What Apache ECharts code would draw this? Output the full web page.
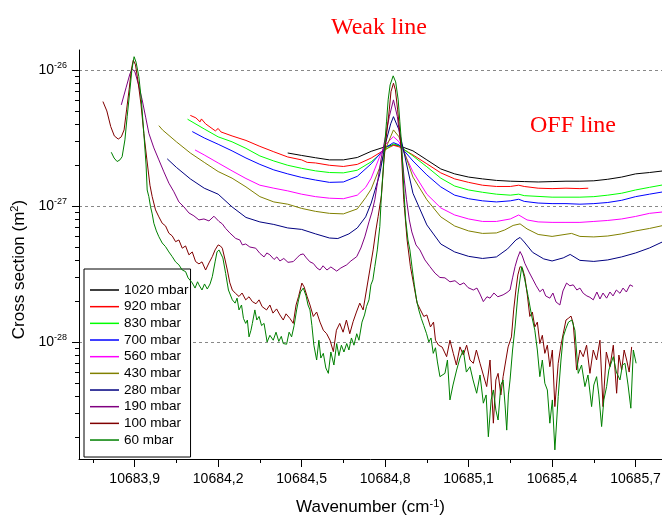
<!DOCTYPE html>
<html>
<head>
<meta charset="utf-8">
<script src="https://cdn.jsdelivr.net/npm/echarts@6/dist/echarts.min.js"></script>
<style>
  html, body { margin: 0; padding: 0; background: #fff; }
  #chart { width: 662px; height: 516px; }
</style>
</head>
<body>
<div id="chart"></div>
<script>
// legend names and line colours
const names = ['1020 mbar', '920 mbar', '830 mbar', '700 mbar', '560 mbar', '430 mbar', '280 mbar', '190 mbar', '100 mbar', '60 mbar'];
const colors = ['#000000', '#ff0000', '#00ff00', '#0000ff', '#ff00ff', '#808000', '#000080', '#800080', '#800000', '#008000'];

// axis ticks
const xMajorTicks = [10683.9, 10684.2, 10684.5, 10684.8, 10685.1, 10685.4, 10685.7];
const xMinorTicks = [10683.75, 10684.05, 10684.35, 10684.65, 10684.95, 10685.25, 10685.55];
const yMajorTicks = [1e-28, 1e-27, 1e-26];
const yMinorTicks = [2e-29, 3e-29, 4e-29, 5e-29, 6e-29, 7e-29, 8e-29, 9e-29,
  2e-28, 3e-28, 4e-28, 5e-28, 6e-28, 7e-28, 8e-28, 9e-28,
  2e-27, 3e-27, 4e-27, 5e-27, 6e-27, 7e-27, 8e-27, 9e-27];

// [wavenumber cm-1, cross section m2]
const p1020 = [[10684.45,2.45e-27],[10684.50,2.35e-27],[10684.55,2.26e-27],[10684.60,2.18e-27],[10684.65,2.18e-27],[10684.70,2.27e-27],[10684.75,2.52e-27],[10684.80,2.72e-27],[10684.83,2.81e-27],[10684.85,2.77e-27],[10684.90,2.54e-27],[10684.95,2.18e-27],[10685.00,1.87e-27],[10685.05,1.72e-27],[10685.10,1.63e-27],[10685.15,1.58e-27],[10685.20,1.54e-27],[10685.25,1.52e-27],[10685.30,1.51e-27],[10685.35,1.50e-27],[10685.40,1.51e-27],[10685.45,1.52e-27],[10685.50,1.52e-27],[10685.55,1.53e-27],[10685.60,1.57e-27],[10685.65,1.63e-27],[10685.70,1.72e-27],[10685.75,1.76e-27],[10685.80,1.81e-27]];

const p920 = [[10684.10,4.63e-27],[10684.12,4.44e-27],[10684.135,4.15e-27],[10684.14,4.36e-27],[10684.155,4.01e-27],[10684.19,3.56e-27],[10684.20,3.71e-27],[10684.21,3.50e-27],[10684.25,3.27e-27],[10684.30,3.03e-27],[10684.35,2.74e-27],[10684.40,2.50e-27],[10684.45,2.29e-27],[10684.50,2.18e-27],[10684.52,2.09e-27],[10684.55,2.07e-27],[10684.60,1.99e-27],[10684.65,1.95e-27],[10684.70,2.02e-27],[10684.75,2.25e-27],[10684.80,2.60e-27],[10684.83,2.79e-27],[10684.85,2.72e-27],[10684.90,2.37e-27],[10684.95,2.04e-27],[10685.00,1.75e-27],[10685.05,1.58e-27],[10685.10,1.49e-27],[10685.15,1.42e-27],[10685.20,1.39e-27],[10685.25,1.39e-27],[10685.28,1.42e-27],[10685.30,1.39e-27],[10685.35,1.35e-27],[10685.40,1.34e-27],[10685.45,1.35e-27],[10685.50,1.34e-27],[10685.53,1.35e-27]];

const p830 = [[10684.09,4.34e-27],[10684.15,3.68e-27],[10684.20,3.22e-27],[10684.25,2.96e-27],[10684.30,2.65e-27],[10684.35,2.33e-27],[10684.40,2.14e-27],[10684.45,1.99e-27],[10684.50,1.89e-27],[10684.55,1.81e-27],[10684.60,1.76e-27],[10684.65,1.75e-27],[10684.70,1.83e-27],[10684.75,2.11e-27],[10684.80,2.58e-27],[10684.83,2.86e-27],[10684.85,2.77e-27],[10684.90,2.33e-27],[10684.95,1.94e-27],[10685.00,1.60e-27],[10685.05,1.40e-27],[10685.10,1.31e-27],[10685.15,1.26e-27],[10685.20,1.22e-27],[10685.25,1.20e-27],[10685.28,1.22e-27],[10685.30,1.19e-27],[10685.40,1.16e-27],[10685.50,1.16e-27],[10685.55,1.17e-27],[10685.60,1.20e-27],[10685.65,1.24e-27],[10685.70,1.31e-27],[10685.75,1.37e-27],[10685.80,1.43e-27]];

const p700 = [[10684.107,3.52e-27],[10684.15,3.16e-27],[10684.20,2.84e-27],[10684.25,2.54e-27],[10684.30,2.25e-27],[10684.35,2.02e-27],[10684.40,1.84e-27],[10684.45,1.72e-27],[10684.50,1.62e-27],[10684.55,1.55e-27],[10684.60,1.49e-27],[10684.65,1.50e-27],[10684.70,1.65e-27],[10684.75,2.04e-27],[10684.80,2.67e-27],[10684.83,2.92e-27],[10684.85,2.81e-27],[10684.90,2.14e-27],[10684.95,1.69e-27],[10685.00,1.38e-27],[10685.05,1.20e-27],[10685.10,1.13e-27],[10685.15,1.09e-27],[10685.20,1.07e-27],[10685.25,1.09e-27],[10685.28,1.12e-27],[10685.30,1.08e-27],[10685.35,1.05e-27],[10685.40,1.04e-27],[10685.45,1.04e-27],[10685.50,1.03e-27],[10685.55,1.04e-27],[10685.60,1.06e-27],[10685.65,1.10e-27],[10685.70,1.17e-27],[10685.75,1.22e-27],[10685.80,1.27e-27]];

const p560 = [[10684.117,2.58e-27],[10684.15,2.37e-27],[10684.20,2.07e-27],[10684.25,1.81e-27],[10684.30,1.59e-27],[10684.35,1.42e-27],[10684.40,1.35e-27],[10684.45,1.29e-27],[10684.50,1.22e-27],[10684.55,1.17e-27],[10684.60,1.14e-27],[10684.65,1.13e-27],[10684.70,1.20e-27],[10684.73,1.37e-27],[10684.75,1.60e-27],[10684.78,2.29e-27],[10684.80,2.81e-27],[10684.83,3.23e-27],[10684.85,2.96e-27],[10684.88,2.18e-27],[10684.90,1.78e-27],[10684.95,1.22e-27],[10685.00,9.67e-28],[10685.05,8.58e-28],[10685.10,8.02e-28],[10685.15,7.69e-28],[10685.20,7.69e-28],[10685.25,8.02e-28],[10685.28,8.58e-28],[10685.31,7.89e-28],[10685.35,7.63e-28],[10685.40,7.57e-28],[10685.45,7.57e-28],[10685.50,7.57e-28],[10685.55,7.69e-28],[10685.60,7.82e-28],[10685.65,8.02e-28],[10685.70,8.37e-28],[10685.75,8.82e-28],[10685.80,9.04e-28]];

const p430 = [[10683.987,3.89e-27],[10684.00,3.62e-27],[10684.05,2.96e-27],[10684.10,2.45e-27],[10684.15,2.09e-27],[10684.20,1.79e-27],[10684.25,1.60e-27],[10684.30,1.38e-27],[10684.35,1.17e-27],[10684.40,1.07e-27],[10684.45,1.03e-27],[10684.50,9.59e-28],[10684.55,9.12e-28],[10684.60,8.82e-28],[10684.65,8.74e-28],[10684.70,9.51e-28],[10684.73,1.15e-27],[10684.75,1.33e-27],[10684.78,1.90e-27],[10684.80,2.58e-27],[10684.83,3.62e-27],[10684.85,3.22e-27],[10684.88,2.14e-27],[10684.90,1.63e-27],[10684.95,1.11e-27],[10685.00,8.31e-28],[10685.05,7.12e-28],[10685.10,6.55e-28],[10685.15,6.28e-28],[10685.20,6.33e-28],[10685.23,6.66e-28],[10685.26,7.19e-28],[10685.285,7.38e-28],[10685.31,6.78e-28],[10685.35,6.17e-28],[10685.40,5.97e-28],[10685.47,6.28e-28],[10685.50,5.97e-28],[10685.55,5.92e-28],[10685.60,6.01e-28],[10685.65,6.23e-28],[10685.70,6.55e-28],[10685.75,6.83e-28],[10685.80,7.19e-28]];

const p280 = [[10684.017,2.22e-27],[10684.05,1.92e-27],[10684.10,1.58e-27],[10684.15,1.35e-27],[10684.20,1.22e-27],[10684.25,9.84e-28],[10684.30,8.23e-28],[10684.35,7.63e-28],[10684.40,7.31e-28],[10684.45,6.89e-28],[10684.50,6.72e-28],[10684.55,6.23e-28],[10684.60,5.81e-28],[10684.63,5.76e-28],[10684.67,6.23e-28],[10684.70,6.89e-28],[10684.73,8.31e-28],[10684.75,1.05e-27],[10684.78,1.69e-27],[10684.80,2.81e-27],[10684.82,4.01e-27],[10684.83,4.53e-27],[10684.85,3.62e-27],[10684.87,2.37e-27],[10684.90,1.24e-27],[10684.95,7.25e-28],[10685.00,5.25e-28],[10685.05,4.59e-28],[10685.10,4.26e-28],[10685.15,4.11e-28],[10685.20,4.22e-28],[10685.24,4.83e-28],[10685.27,5.62e-28],[10685.285,5.87e-28],[10685.30,5.43e-28],[10685.33,4.56e-28],[10685.37,4.08e-28],[10685.40,3.94e-28],[10685.44,4.15e-28],[10685.465,4.40e-28],[10685.50,3.98e-28],[10685.55,3.91e-28],[10685.60,4.01e-28],[10685.65,4.22e-28],[10685.70,4.51e-28],[10685.75,4.91e-28],[10685.80,5.48e-28]];

const p190 = [[10683.852,5.53e-27],[10683.869,7.38e-27],[10683.883,9.35e-27],[10683.891,1.017e-26],[10683.901,9.67e-27],[10683.914,7.76e-27],[10683.927,6.02e-27],[10683.940,4.44e-27],[10683.951,3.42e-27],[10683.969,2.67e-27],[10683.987,2.18e-27],[10684.005,1.78e-27],[10684.023,1.47e-27],[10684.041,1.27e-27],[10684.059,1.07e-27],[10684.077,9.84e-28],[10684.095,8.88e-28],[10684.113,8.45e-28],[10684.131,7.89e-28],[10684.149,8.02e-28],[10684.167,7.76e-28],[10684.185,8.40e-28],[10684.203,7.69e-28],[10684.215,7.38e-28],[10684.227,6.83e-28],[10684.242,6.33e-28],[10684.263,5.77e-28],[10684.278,5.62e-28],[10684.287,5.17e-28],[10684.299,5.25e-28],[10684.314,4.99e-28],[10684.335,4.89e-28],[10684.350,4.48e-28],[10684.365,4.22e-28],[10684.375,4.51e-28],[10684.386,4.37e-28],[10684.401,4.04e-28],[10684.411,4.22e-28],[10684.422,3.94e-28],[10684.436,4.11e-28],[10684.451,3.85e-28],[10684.470,3.90e-28],[10684.483,4.15e-28],[10684.494,4.37e-28],[10684.506,4.44e-28],[10684.517,4.15e-28],[10684.530,3.88e-28],[10684.542,3.78e-28],[10684.555,3.50e-28],[10684.566,3.38e-28],[10684.577,3.63e-28],[10684.591,3.38e-28],[10684.605,3.56e-28],[10684.626,3.32e-28],[10684.641,3.50e-28],[10684.662,3.69e-28],[10684.677,3.94e-28],[10684.698,4.24e-28],[10684.713,4.91e-28],[10684.727,5.92e-28],[10684.742,7.63e-28],[10684.753,9.04e-28],[10684.763,1.11e-27],[10684.774,1.55e-27],[10684.785,2.18e-27],[10684.799,3.06e-27],[10684.815,4.53e-27],[10684.830,6.02e-27],[10684.844,4.53e-27],[10684.859,2.58e-27],[10684.869,1.55e-27],[10684.877,1.11e-27],[10684.887,7.89e-28],[10684.896,6.44e-28],[10684.911,5.17e-28],[10684.925,4.75e-28],[10684.943,4.01e-28],[10684.961,3.58e-28],[10684.979,3.21e-28],[10684.997,2.98e-28],[10685.015,2.96e-28],[10685.033,2.77e-28],[10685.051,2.82e-28],[10685.069,2.63e-28],[10685.083,2.72e-28],[10685.098,2.51e-28],[10685.117,2.41e-28],[10685.130,2.49e-28],[10685.141,2.25e-28],[10685.153,1.98e-28],[10685.166,2.15e-28],[10685.177,2.10e-28],[10685.191,2.29e-28],[10685.205,2.15e-28],[10685.224,2.22e-28],[10685.238,2.31e-28],[10685.249,2.41e-28],[10685.258,2.96e-28],[10685.267,3.58e-28],[10685.276,4.15e-28],[10685.285,4.62e-28],[10685.293,4.29e-28],[10685.302,3.79e-28],[10685.317,3.27e-28],[10685.332,2.86e-28],[10685.343,2.59e-28],[10685.356,2.34e-28],[10685.367,2.45e-28],[10685.377,2.18e-28],[10685.392,2.10e-28],[10685.403,2.29e-28],[10685.414,1.97e-28],[10685.428,1.87e-28],[10685.439,2.37e-28],[10685.452,2.71e-28],[10685.464,2.59e-28],[10685.476,2.63e-28],[10685.489,2.41e-28],[10685.500,2.49e-28],[10685.512,2.28e-28],[10685.525,2.18e-28],[10685.536,2.13e-28],[10685.548,2.04e-28],[10685.561,2.33e-28],[10685.572,2.07e-28],[10685.583,2.29e-28],[10685.596,2.10e-28],[10685.608,2.33e-28],[10685.619,2.18e-28],[10685.631,2.41e-28],[10685.644,2.28e-28],[10685.655,2.49e-28],[10685.667,2.33e-28],[10685.680,2.63e-28],[10685.691,2.56e-28]];

const p100 = [[10683.786,5.85e-27],[10683.80,4.99e-27],[10683.814,3.83e-27],[10683.827,3.27e-27],[10683.841,3.10e-27],[10683.852,3.22e-27],[10683.862,3.62e-27],[10683.871,5.08e-27],[10683.880,7.13e-27],[10683.888,1.0e-26],[10683.895,1.18e-26],[10683.903,1.09e-26],[10683.913,7.98e-27],[10683.923,5.53e-27],[10683.933,3.42e-27],[10683.944,2.18e-27],[10683.955,1.42e-27],[10683.963,1.17e-27],[10683.975,9.35e-28],[10683.987,8.31e-28],[10683.999,7.46e-28],[10684.011,7.13e-28],[10684.023,6.30e-28],[10684.035,6.02e-28],[10684.047,5.46e-28],[10684.059,5.62e-28],[10684.071,4.89e-28],[10684.083,5.08e-28],[10684.095,4.37e-28],[10684.107,4.59e-28],[10684.119,3.90e-28],[10684.131,3.75e-28],[10684.142,3.88e-28],[10684.155,3.38e-28],[10684.167,3.81e-28],[10684.179,4.24e-28],[10684.189,4.75e-28],[10684.200,5.17e-28],[10684.208,5.08e-28],[10684.215,4.89e-28],[10684.225,4.01e-28],[10684.233,3.38e-28],[10684.242,2.72e-28],[10684.251,2.41e-28],[10684.262,2.28e-28],[10684.275,2.16e-28],[10684.286,2.29e-28],[10684.299,2.04e-28],[10684.311,2.15e-28],[10684.323,1.98e-28],[10684.336,1.91e-28],[10684.347,2.04e-28],[10684.358,1.82e-28],[10684.374,1.72e-28],[10684.386,1.87e-28],[10684.397,1.63e-28],[10684.410,1.75e-28],[10684.422,1.58e-28],[10684.434,1.45e-28],[10684.444,1.61e-28],[10684.458,1.49e-28],[10684.470,1.37e-28],[10684.480,1.87e-28],[10684.489,2.16e-28],[10684.501,2.71e-28],[10684.509,2.54e-28],[10684.520,2.15e-28],[10684.530,1.87e-28],[10684.542,1.54e-28],[10684.554,1.66e-28],[10684.566,1.40e-28],[10684.578,1.22e-28],[10684.590,1.15e-28],[10684.602,1.03e-28],[10684.614,8.49e-29],[10684.625,1.22e-28],[10684.637,1.37e-28],[10684.649,1.18e-28],[10684.661,1.45e-28],[10684.673,1.15e-28],[10684.685,1.41e-28],[10684.697,1.66e-28],[10684.709,1.93e-28],[10684.721,1.72e-28],[10684.733,2.41e-28],[10684.745,3.38e-28],[10684.757,4.75e-28],[10684.767,6.66e-28],[10684.775,8.37e-28],[10684.787,1.20e-27],[10684.796,2.18e-27],[10684.803,3.06e-27],[10684.815,5.08e-27],[10684.821,6.90e-27],[10684.830,7.98e-27],[10684.837,7.13e-27],[10684.845,5.08e-27],[10684.852,3.62e-27],[10684.858,2.58e-27],[10684.867,1.11e-27],[10684.879,5.62e-28],[10684.891,3.58e-28],[10684.903,2.63e-28],[10684.915,1.93e-28],[10684.927,1.72e-28],[10684.939,1.54e-28],[10684.950,1.58e-28],[10684.963,1.29e-28],[10684.974,1.40e-28],[10684.981,1.03e-28],[10684.992,9.47e-29],[10685.005,9.17e-29],[10685.021,7.80e-29],[10685.033,1.03e-28],[10685.045,8.25e-29],[10685.056,6.77e-29],[10685.069,9.20e-29],[10685.081,8.02e-29],[10685.093,9.47e-29],[10685.105,7.37e-29],[10685.117,6.97e-29],[10685.128,8.73e-29],[10685.141,6.97e-29],[10685.153,5.72e-29],[10685.165,4.70e-29],[10685.177,7.37e-29],[10685.189,2.53e-29],[10685.198,5.26e-29],[10685.206,5.88e-29],[10685.216,4.08e-29],[10685.224,5.56e-29],[10685.234,7.37e-29],[10685.242,9.20e-29],[10685.254,1.09e-28],[10685.262,1.72e-28],[10685.270,2.41e-28],[10685.277,3.11e-28],[10685.285,3.58e-28],[10685.293,3.50e-28],[10685.302,3.02e-28],[10685.311,2.22e-28],[10685.320,1.54e-28],[10685.329,1.66e-28],[10685.338,1.29e-28],[10685.347,1.40e-28],[10685.356,9.74e-29],[10685.365,1.12e-28],[10685.374,8.25e-29],[10685.383,9.47e-29],[10685.392,6.58e-29],[10685.401,8.73e-29],[10685.410,3.35e-29],[10685.422,6.97e-29],[10685.432,9.47e-29],[10685.440,1.15e-28],[10685.450,1.45e-28],[10685.458,1.49e-28],[10685.468,1.55e-28],[10685.476,1.37e-28],[10685.482,9.47e-29],[10685.488,6.22e-29],[10685.500,8.73e-29],[10685.512,7.80e-29],[10685.524,9.47e-29],[10685.536,5.88e-29],[10685.548,8.73e-29],[10685.560,7.37e-29],[10685.572,1.03e-28],[10685.583,3.35e-29],[10685.595,8.44e-29],[10685.608,6.58e-29],[10685.620,9.47e-29],[10685.632,4.20e-29],[10685.640,8.02e-29],[10685.650,6.22e-29],[10685.659,8.73e-29],[10685.668,7.37e-29],[10685.677,6.01e-29],[10685.686,9.20e-29]];

const p60 = [[10683.816,2.48e-27],[10683.826,2.25e-27],[10683.837,2.12e-27],[10683.847,2.18e-27],[10683.855,2.30e-27],[10683.865,3.06e-27],[10683.873,4.53e-27],[10683.883,7.13e-27],[10683.890,1.0e-26],[10683.898,1.25e-26],[10683.905,1.14e-26],[10683.915,8.93e-27],[10683.924,6.02e-27],[10683.933,3.42e-27],[10683.941,2.0e-27],[10683.945,1.31e-27],[10683.951,1.17e-27],[10683.957,9.88e-28],[10683.963,8.74e-28],[10683.969,7.46e-28],[10683.978,6.55e-28],[10683.987,5.94e-28],[10683.999,5.34e-28],[10684.011,5.02e-28],[10684.023,4.59e-28],[10684.035,4.24e-28],[10684.047,3.88e-28],[10684.059,3.69e-28],[10684.071,3.38e-28],[10684.083,3.29e-28],[10684.092,2.96e-28],[10684.099,3.06e-28],[10684.107,2.72e-28],[10684.117,2.49e-28],[10684.126,2.77e-28],[10684.131,2.63e-28],[10684.142,2.41e-28],[10684.151,2.67e-28],[10684.161,2.45e-28],[10684.171,2.67e-28],[10684.179,3.02e-28],[10684.189,3.88e-28],[10684.196,4.59e-28],[10684.203,4.75e-28],[10684.210,4.67e-28],[10684.217,4.15e-28],[10684.227,3.19e-28],[10684.237,2.41e-28],[10684.244,2.49e-28],[10684.251,2.04e-28],[10684.261,1.93e-28],[10684.268,2.10e-28],[10684.275,1.72e-28],[10684.284,1.87e-28],[10684.291,1.49e-28],[10684.299,1.37e-28],[10684.305,1.45e-28],[10684.311,1.09e-28],[10684.318,1.22e-28],[10684.323,1.37e-28],[10684.332,1.72e-28],[10684.339,1.45e-28],[10684.347,1.54e-28],[10684.356,1.32e-28],[10684.365,1.37e-28],[10684.376,1.00e-28],[10684.386,1.12e-28],[10684.398,1.03e-28],[10684.408,1.18e-28],[10684.418,1.01e-28],[10684.427,1.10e-28],[10684.434,9.74e-29],[10684.446,9.63e-29],[10684.455,1.18e-28],[10684.464,1.09e-28],[10684.473,1.32e-28],[10684.482,1.72e-28],[10684.489,2.04e-28],[10684.496,2.33e-28],[10684.506,2.49e-28],[10684.516,2.18e-28],[10684.523,1.87e-28],[10684.530,1.72e-28],[10684.537,1.32e-28],[10684.544,9.47e-29],[10684.554,7.37e-29],[10684.562,1.03e-28],[10684.569,7.62e-29],[10684.578,8.25e-29],[10684.587,6.44e-29],[10684.596,5.88e-29],[10684.605,8.44e-29],[10684.616,6.77e-29],[10684.626,9.74e-29],[10684.634,7.93e-29],[10684.643,9.47e-29],[10684.652,8.44e-29],[10684.662,9.74e-29],[10684.670,8.73e-29],[10684.679,1.07e-28],[10684.688,9.47e-29],[10684.698,1.15e-28],[10684.706,1.03e-28],[10684.717,1.40e-28],[10684.726,1.58e-28],[10684.733,1.82e-28],[10684.742,2.04e-28],[10684.749,2.63e-28],[10684.756,2.86e-28],[10684.763,3.58e-28],[10684.772,4.75e-28],[10684.781,7.05e-28],[10684.787,1.24e-27],[10684.793,1.84e-27],[10684.799,2.89e-27],[10684.805,4.15e-27],[10684.811,6.02e-27],[10684.818,7.76e-27],[10684.829,9.04e-27],[10684.838,8.16e-27],[10684.847,6.02e-27],[10684.853,4.15e-27],[10684.859,2.89e-27],[10684.864,1.84e-27],[10684.868,1.24e-27],[10684.874,7.89e-28],[10684.882,5.62e-28],[10684.889,4.75e-28],[10684.898,3.38e-28],[10684.905,2.63e-28],[10684.913,2.04e-28],[10684.921,1.72e-28],[10684.930,1.49e-28],[10684.939,1.32e-28],[10684.949,1.15e-28],[10684.957,1.0e-28],[10684.965,1.07e-28],[10684.973,8.25e-29],[10684.981,9.07e-29],[10684.988,7.13e-29],[10684.997,5.56e-29],[10685.015,5.88e-29],[10685.024,7.37e-29],[10685.033,3.75e-29],[10685.044,4.83e-29],[10685.057,6.22e-29],[10685.069,7.62e-29],[10685.081,8.73e-29],[10685.092,6.01e-29],[10685.105,6.58e-29],[10685.116,5.26e-29],[10685.129,4.20e-29],[10685.141,5.72e-29],[10685.153,3.55e-29],[10685.163,4.08e-29],[10685.171,2.01e-29],[10685.181,3.75e-29],[10685.189,4.44e-29],[10685.198,3.16e-29],[10685.206,2.67e-29],[10685.216,4.83e-29],[10685.224,5.26e-29],[10685.231,3.44e-29],[10685.237,2.25e-29],[10685.243,4.08e-29],[10685.249,5.26e-29],[10685.258,8.73e-29],[10685.267,1.29e-28],[10685.277,2.22e-28],[10685.291,3.58e-28],[10685.302,2.86e-28],[10685.314,2.16e-28],[10685.326,1.58e-28],[10685.338,1.22e-28],[10685.347,8.73e-29],[10685.356,5.56e-29],[10685.365,7.37e-29],[10685.374,4.97e-29],[10685.383,4.44e-29],[10685.392,2.53e-29],[10685.401,3.75e-29],[10685.410,1.61e-29],[10685.422,3.97e-29],[10685.432,7.37e-29],[10685.440,1.09e-28],[10685.450,1.26e-28],[10685.459,1.40e-28],[10685.471,1.45e-28],[10685.482,1.22e-28],[10685.494,5.88e-29],[10685.506,6.77e-29],[10685.518,4.70e-29],[10685.529,5.72e-29],[10685.542,3.35e-29],[10685.550,4.83e-29],[10685.560,5.56e-29],[10685.568,4.08e-29],[10685.578,2.39e-29],[10685.586,3.75e-29],[10685.596,4.70e-29],[10685.604,6.22e-29],[10685.620,7.80e-29],[10685.631,6.01e-29],[10685.644,5.26e-29],[10685.653,6.77e-29],[10685.662,6.97e-29],[10685.673,4.83e-29],[10685.683,3.26e-29],[10685.692,8.73e-29],[10685.702,6.97e-29]];

const allData = [p1020, p920, p830, p700, p560, p430, p280, p190, p100, p60];

const chart = echarts.init(document.getElementById('chart'));

// the y axis is drawn in log10 space (decades), labels show 10^n
const lg = function (v) { return Math.log10(v); };
const xMin = 10683.70, xMax = 10685.795;
const yMin = lg(1.38e-29), yMax = lg(1.40e-26);

const option = {
  animation: false,
  backgroundColor: '#fff',
  textStyle: { fontFamily: 'Liberation Sans, Arial, sans-serif' },
  color: colors,
  grid: { left: 79, right: 0, top: 50, bottom: 57, outerBoundsMode: 'none', containLabel: false },
  legend: {
    orient: 'vertical',
    left: 84,
    top: 269,
    padding: [13, 2, 9, 6],
    icon: 'rect',
    itemWidth: 29,
    itemHeight: 1.5,
    itemGap: 0.67,
    backgroundColor: '#fff',
    borderColor: '#000',
    borderWidth: 1,
    selectedMode: false,
    textStyle: { fontSize: 13.5, color: '#000', lineHeight: 16 },
    data: names
  },
  graphic: [
    { type: 'text', x: 379, y: 28, style: { text: 'Weak line', fill: '#ff0000', font: '24px "Liberation Serif", "Times New Roman", serif', textAlign: 'center', textVerticalAlign: 'middle' } },
    { type: 'text', x: 573, y: 126, style: { text: 'OFF line', fill: '#ff0000', font: '24px "Liberation Serif", "Times New Roman", serif', textAlign: 'center', textVerticalAlign: 'middle' } }
  ],
  xAxis: [
    {
      type: 'value', min: xMin, max: xMax, position: 'bottom',
      name: 'Wavenumber (cm{s|-1})', nameLocation: 'middle', nameGap: 39,
      nameTextStyle: { fontSize: 17, color: '#000', rich: { s: { fontSize: 11, color: '#000', padding: [0, 0, 8, 0] } } },
      axisLine: { onZero: false, lineStyle: { color: '#000', width: 1 } },
      axisTick: { customValues: xMajorTicks, length: 8, lineStyle: { color: '#000' } },
      axisLabel: { customValues: xMajorTicks, margin: 13, fontSize: 14, color: '#000',
        formatter: function (v) { return v.toFixed(1).replace('.', ','); } },
      splitLine: { show: false }
    },
    {
      type: 'value', min: xMin, max: xMax, position: 'bottom',
      axisLine: { show: false, onZero: false },
      axisTick: { customValues: xMinorTicks, length: 4, lineStyle: { color: '#000' } },
      axisLabel: { show: false },
      splitLine: { show: false }
    }
  ],
  yAxis: [
    {
      type: 'value', min: yMin, max: yMax, position: 'left',
      name: 'Cross section (m{s|2})', nameLocation: 'middle', nameGap: 50,
      nameTextStyle: { fontSize: 17, color: '#000', padding: [0, 30, 0, 0],
        rich: { s: { fontSize: 11, color: '#000', padding: [0, 0, 8, 0] } } },
      axisLine: { show: true, onZero: false, lineStyle: { color: '#000', width: 1 } },
      axisTick: { customValues: yMajorTicks.map(lg), length: 7, lineStyle: { color: '#000' } },
      axisLabel: { customValues: yMajorTicks.map(lg), margin: 12,
        formatter: function (v) { return '{b|10}{s|' + Math.round(v) + '}'; },
        rich: {
          b: { fontSize: 14, color: '#000' },
          s: { fontSize: 9, color: '#000', padding: [0, 0, 9, 0] }
        } },
      splitLine: { show: true, lineStyle: { color: '#888', type: [3, 3], width: 1 } }
    },
    {
      type: 'value', min: yMin, max: yMax, position: 'left',
      axisLine: { show: false, onZero: false },
      axisTick: { customValues: yMinorTicks.map(lg), length: 4, lineStyle: { color: '#000' } },
      axisLabel: { show: false },
      splitLine: { show: false }
    }
  ],
  series: names.map(function (n, i) {
    return {
      name: n,
      type: 'line',
      xAxisIndex: 0,
      yAxisIndex: 0,
      data: allData[i].map(function (p) { return [p[0], lg(p[1])]; }),
      showSymbol: false,
      symbol: 'none',
      lineStyle: { width: 1, color: colors[i] },
      itemStyle: { color: colors[i] },
      z: 2 + i
    };
  })
};

chart.setOption(option);
</script>
</body>
</html>
